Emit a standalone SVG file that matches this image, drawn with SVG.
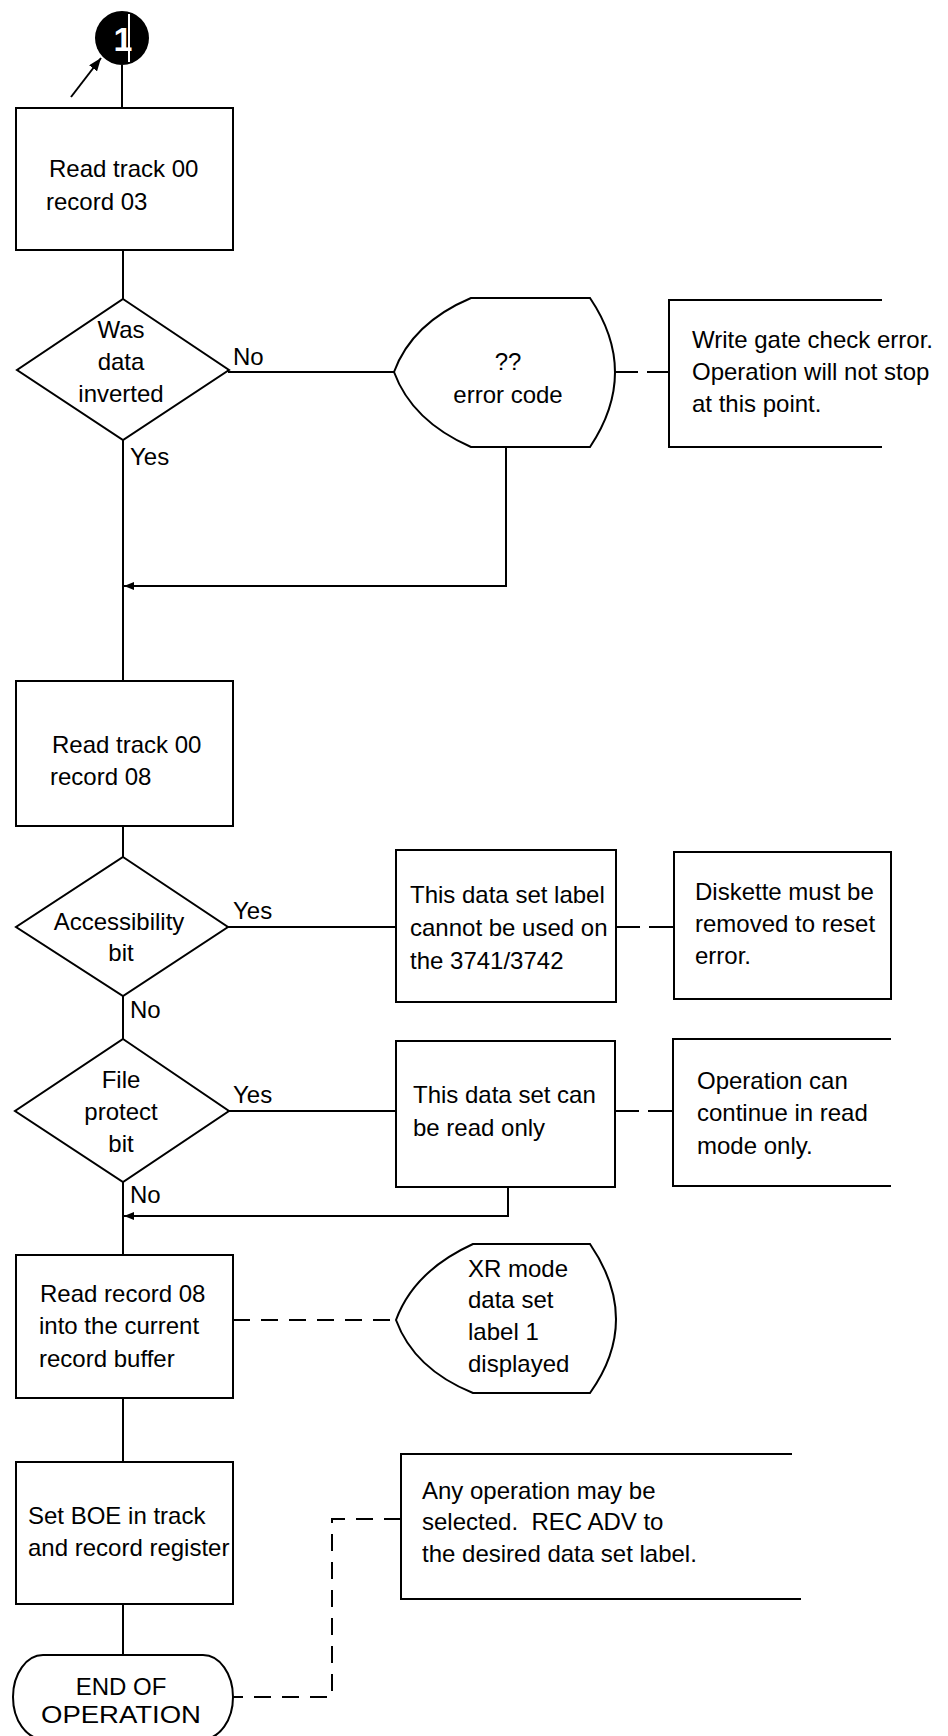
<svg xmlns="http://www.w3.org/2000/svg" width="948" height="1736" viewBox="0 0 948 1736">
<defs>
<style>
.ln{stroke:#000;stroke-width:2;fill:none}
.sh{stroke:#000;stroke-width:2;fill:#fff}
.dsh{stroke:#000;stroke-width:2;fill:none;stroke-dasharray:17 11}
.dsh2{stroke:#000;stroke-width:2;fill:none;stroke-dasharray:24 9}
text{font-family:"Liberation Sans",Arial,sans-serif;font-size:24px;fill:#000}
.c{text-anchor:middle}
</style>
<marker id="ah" markerUnits="userSpaceOnUse" markerWidth="11" markerHeight="8" refX="10" refY="4" orient="auto"><path d="M0,0 L10,4 L0,8 z" fill="#000"/></marker>
<marker id="ah2" markerUnits="userSpaceOnUse" markerWidth="14" markerHeight="10" refX="13" refY="5" orient="auto"><path d="M0,0 L13,5 L0,10 z" fill="#000"/></marker>
</defs>
<rect width="948" height="1736" fill="#fff"/>

<g id="connectors">
<path class="ln" d="M122 65 V108"/>
<path class="ln" d="M71 97 L101 58" marker-end="url(#ah2)"/>
<path class="ln" d="M123 250 V299"/>
<path class="ln" d="M123 440 V681"/>
<path class="ln" d="M228 372 H394"/>
<path class="ln" d="M506 447 V586 H124" marker-end="url(#ah)"/>
<path class="dsh2" d="M614 372 H669"/>
<path class="ln" d="M123 826 V857"/>
<path class="ln" d="M228 927 H396"/>
<path class="dsh2" d="M616 927 H674"/>
<path class="ln" d="M123 996 V1039"/>
<path class="ln" d="M229 1111 H396"/>
<path class="dsh2" d="M615 1111 H673"/>
<path class="ln" d="M123 1182 V1255"/>
<path class="ln" d="M508 1187 V1216 H124" marker-end="url(#ah)"/>
<path class="dsh" d="M233 1320 H396"/>
<path class="ln" d="M123 1398 V1462"/>
<path class="ln" d="M123 1604 V1655"/>
<path class="dsh" d="M401 1519 H332 V1697 H233"/>
</g>

<g id="connector1">
<circle cx="122" cy="38" r="27" fill="#000"/>
<text x="123" y="51" class="c" style="font-size:34px;font-weight:bold;fill:#fff">1</text>
<path d="M129 14 V62" stroke="#fff" stroke-width="2"/>
</g>

<g id="box1">
<rect class="sh" x="16" y="108" width="217" height="142"/>
<text x="49" y="177">Read track 00</text>
<text x="46" y="210">record 03</text>
</g>

<g id="dec1">
<path class="sh" d="M123 299 L229 370 L123 440 L17 370 Z"/>
<text x="121" y="338" class="c">Was</text>
<text x="121" y="370" class="c">data</text>
<text x="121" y="402" class="c">inverted</text>
<text x="233" y="365">No</text>
<text x="130" y="465">Yes</text>
</g>

<g id="errcode">
<path class="sh" d="M394 372 Q412 323 471 298 H590 Q640 372 590 447 H471 Q412 421 394 372 Z"/>
<text x="508" y="370" class="c">??</text>
<text x="508" y="403" class="c">error code</text>
</g>

<g id="note1">
<path class="ln" d="M882 300 H669 V447 H882"/>
<text x="692" y="348">Write gate check error.</text>
<text x="692" y="380">Operation will not stop</text>
<text x="692" y="412">at this point.</text>
</g>

<g id="box2">
<rect class="sh" x="16" y="681" width="217" height="145"/>
<text x="52" y="753">Read track 00</text>
<text x="50" y="785">record 08</text>
</g>

<g id="dec2">
<path class="sh" d="M123 857 L228 927 L123 996 L16 927 Z"/>
<text x="119" y="930" class="c">Accessibility</text>
<text x="121" y="961" class="c">bit</text>
<text x="233" y="919">Yes</text>
<text x="130" y="1018">No</text>
</g>

<g id="box-label">
<rect class="sh" x="396" y="850" width="220" height="152"/>
<text x="410" y="903">This data set label</text>
<text x="410" y="936">cannot be used on</text>
<text x="410" y="969">the 3741/3742</text>
</g>

<g id="note2">
<rect class="sh" x="674" y="852" width="217" height="147"/>
<text x="695" y="900">Diskette must be</text>
<text x="695" y="932">removed to reset</text>
<text x="695" y="964">error.</text>
</g>

<g id="dec3">
<path class="sh" d="M123 1039 L229 1111 L123 1182 L15 1111 Z"/>
<text x="121" y="1088" class="c">File</text>
<text x="121" y="1120" class="c">protect</text>
<text x="121" y="1152" class="c">bit</text>
<text x="233" y="1103">Yes</text>
<text x="130" y="1203">No</text>
</g>

<g id="box-readonly">
<rect class="sh" x="396" y="1041" width="219" height="146"/>
<text x="413" y="1103">This data set can</text>
<text x="413" y="1136">be read only</text>
</g>

<g id="note3">
<path class="ln" d="M891 1039 H673 V1186 H891"/>
<text x="697" y="1089">Operation can</text>
<text x="697" y="1121">continue in read</text>
<text x="697" y="1154">mode only.</text>
</g>

<g id="box3">
<rect class="sh" x="16" y="1255" width="217" height="143"/>
<text x="40" y="1302">Read record 08</text>
<text x="39" y="1334">into the current</text>
<text x="39" y="1367">record buffer</text>
</g>

<g id="display">
<path class="sh" d="M396 1320 Q414 1271 473 1244 H590 Q642 1320 590 1393 H473 Q414 1369 396 1320 Z"/>
<text x="468" y="1277">XR mode</text>
<text x="468" y="1308">data set</text>
<text x="468" y="1340">label 1</text>
<text x="468" y="1372">displayed</text>
</g>

<g id="box4">
<rect class="sh" x="16" y="1462" width="217" height="142"/>
<text x="28" y="1524">Set BOE in track</text>
<text x="28" y="1556">and record register</text>
</g>

<g id="note4">
<path class="ln" d="M792 1454 H401 V1599 H801"/>
<text x="422" y="1499">Any operation may be</text>
<text x="422" y="1530" style="white-space:pre">selected.  REC ADV to</text>
<text x="422" y="1562">the desired data set label.</text>
</g>

<g id="terminal">
<path class="sh" d="M43 1655 H203 A30 42 0 0 1 203 1739 H43 A30 42 0 0 1 43 1655 Z"/>
<text x="121" y="1695" class="c">END OF</text>
<text x="121" y="1723" class="c" textLength="160" lengthAdjust="spacingAndGlyphs">OPERATION</text>
</g>
</svg>
